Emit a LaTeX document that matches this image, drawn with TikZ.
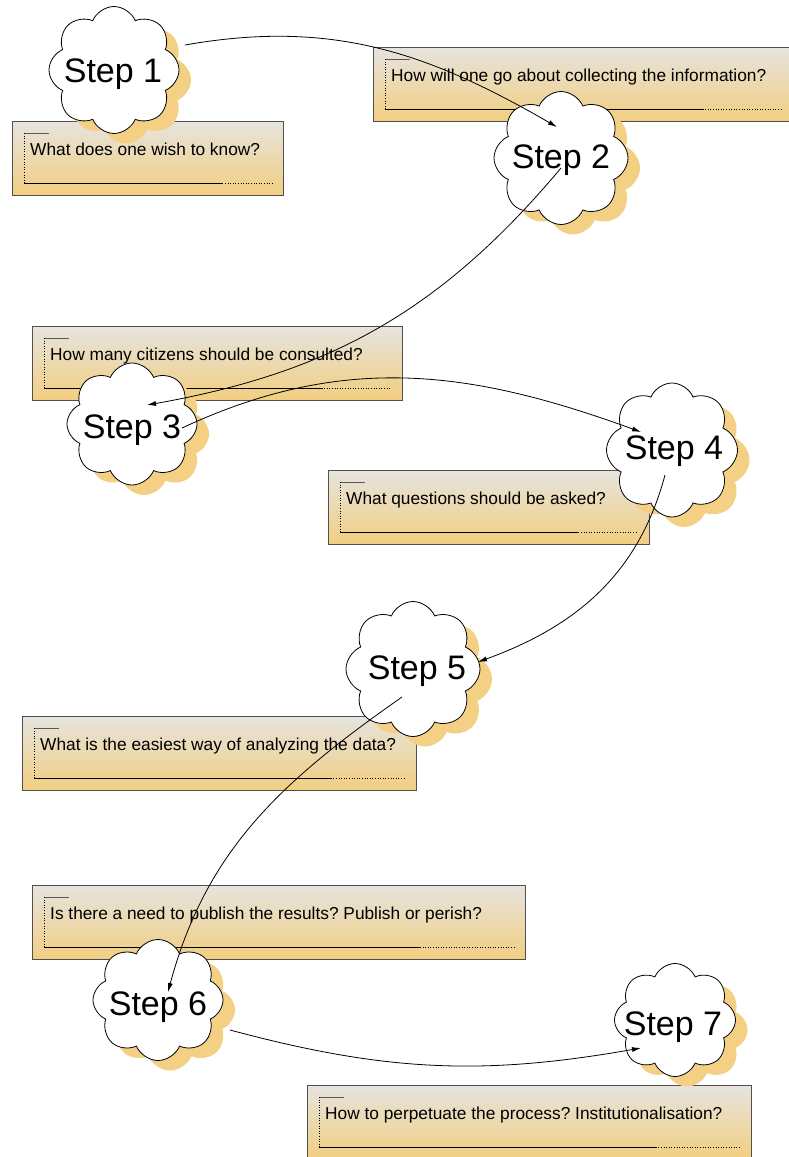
\documentclass[tikz,border=0pt]{standalone}
\usepackage{fontspec}
\setmainfont{Liberation Sans}
\frenchspacing
\usetikzlibrary{shapes.symbols, shadows, calc, arrows.meta}

\definecolor{cloudtan}{RGB}{243,208,132}
\definecolor{boxtop}{RGB}{230,228,222}
\definecolor{boxbottom}{RGB}{242,206,128}
\definecolor{boxedge}{RGB}{80,80,80}

\tikzset{
  qbox/.style={draw=boxedge, line width=1pt, top color=boxtop, bottom color=boxbottom,
    minimum height=74pt, inner sep=0pt, anchor=north west},
  qtext/.style={anchor=base west, inner sep=0pt, font=\fontsize{17.3}{20}\selectfont},
  stepcloud/.style={cloud, cloud puffs=8, cloud puff arc=135, cloud ignores aspect,
    draw=black, line width=0.8pt, fill=white, minimum width=130pt, minimum height=127pt,
    inner sep=0pt,
    general shadow={fill=cloudtan, draw=none, shadow xshift=12pt, shadow yshift=-10pt}},
  steptext/.style={anchor=base, inner sep=0pt, font=\fontsize{34}{40}\selectfont},
  flow/.style={line width=0.8pt, -{Latex[length=9pt, width=5pt]}}
}

\begin{document}
\begin{tikzpicture}[x=1pt, y=-1pt]

\useasboundingbox (0,0) rectangle (789,1157);

% question boxes
\node[qbox, minimum width=271pt] (q1) at (12,121) {};
\node[qtext] (t1) at ($(q1.north west)+(18,34)$) {What does one wish to know?};

\node[qbox, minimum width=420pt] (q2) at (373,47) {};
\node[qtext] (t2) at ($(q2.north west)+(18,34)$) {How will one go about collecting the information?};

\node[qbox, minimum width=370pt] (q3) at (32,326) {};
\node[qtext] (t3) at ($(q3.north west)+(18,34)$) {How many citizens should be consulted?};

\node[qbox, minimum width=321pt] (q4) at (328,470) {};
\node[qtext] (t4) at ($(q4.north west)+(18,34)$) {What questions should be asked?};

\node[qbox, minimum width=394pt] (q5) at (22,716) {};
\node[qtext] (t5) at ($(q5.north west)+(18,34)$) {What is the easiest way of analyzing the data?};

\node[qbox, minimum width=493pt] (q6) at (32,885) {};
\node[qtext] (t6) at ($(q6.north west)+(18,34)$) {Is there a need to publish the results? Publish or perish?};

\node[qbox, minimum width=444pt] (q7) at (307,1085) {};
\node[qtext] (t7) at ($(q7.north west)+(18,34)$) {How to perpetuate the process? Institutionalisation?};

% bracket and underline in each box
\foreach \q in {q1,q2,q3,q4,q5,q6,q7} {
  \draw[black!65, line width=0.8pt] ($(\q.north west)+(12,12)$) -- ($(\q.north west)+(37,12)$);
  \draw[dotted, line width=0.6pt] ($(\q.north west)+(12,12)$) -- ($(\q.south west)+(12,-13)$);
  \path ($(\q.south west)+(12,-13)$) coordinate (bl) ($(\q.south east)+(-12,-13)$) coordinate (br);
  \draw[line width=0.8pt] (bl) -- ($(bl)!0.8!(br)$);
  \draw[dotted, line width=0.6pt] ($(bl)!0.8!(br)$) -- (br);
}

% Step 1
\node[stepcloud] (c1) at (114,70) {};
\node[steptext] (s1) at ($(c1)+(-1,12)$) {Step 1};

% Step 2
\node[stepcloud, minimum width=134pt, minimum height=133pt] (c2) at (561,158) {};
\node[steptext] (s2) at ($(c2)+(0,10)$) {Step 2};

% Step 3
\node[stepcloud, minimum height=122pt] (c3) at (132,424) {};
\node[steptext] (s3) at ($(c3)+(0,14)$) {Step 3};

% Step 4
\node[stepcloud, minimum width=131pt, minimum height=134pt] (c4) at (672,450) {};
\node[steptext] (s4) at ($(c4)+(2,9)$) {Step 4};

% Step 5
\node[stepcloud, minimum width=134pt, minimum height=135pt] (c5) at (413,669) {};
\node[steptext] (s5) at ($(c5)+(4,10)$) {Step 5};

% Step 6
\node[stepcloud, minimum height=121pt] (c6) at (158,1000) {};
\node[steptext] (s6) at ($(c6)+(0,15)$) {Step 6};

% Step 7
\node[stepcloud, minimum width=121pt, minimum height=113pt] (c7) at (675,1020) {};
\node[steptext] (s7) at ($(c7)+(-2,15)$) {Step 7};

% connectors
\draw[flow] ($(c1)+(71,-25)$) to[out=10, in=150] ($(c2)+(-4,-31)$);
\draw[flow] ($(c2)+(0,10)$) to[out=230, in=10] ($(c3)+(15,-19)$);
\draw[flow] ($(c3)+(50,4)$) to[out=25, in=160] ($(c4)+(-31,-18)$);
\draw[flow] ($(c4)+(-7,25)$) to[out=255, in=20] ($(c5)+(65,-7)$);
\draw[flow] ($(c5)+(-11,28)$) to[out=215, in=75] ($(c6)+(10,-8)$);
\draw[flow] ($(c6)+(72,30)$) to[out=-15, in=190] ($(c7)+(-34,28)$);

\end{tikzpicture}
\end{document}
